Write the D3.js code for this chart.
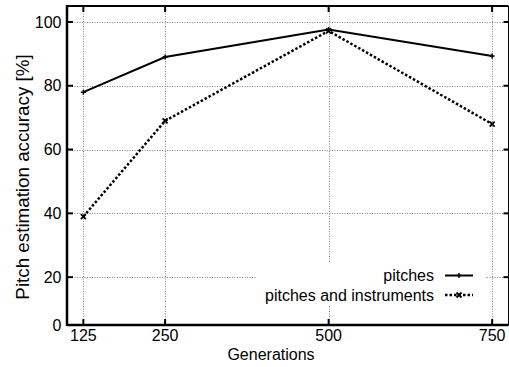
<!DOCTYPE html>
<html lang="en">
<head>
<meta charset="UTF-8">
<title>Pitch estimation accuracy</title>
<style>
  body { margin: 0; background: #fff; }
  text { font-family: "Liberation Sans", Arial, sans-serif; fill: #000; }
</style>
</head>
<body>
<svg id="svg"></svg>
<script src="https://d3js.org/d3.v7.min.js"></script>
<script>
// data
const generations = [125, 250, 500, 750];
const pitches = [78, 89, 97.6, 89.3];
const pitchesInstruments = [39, 69, 97.2, 68];
const seriesNames = ["pitches", "pitches and instruments"];
const xTickVals = [125, 250, 500, 750];
const yTickVals = [5, 20, 40, 60, 80, 100];
const yTickLabels = ["0", "20", "40", "60", "80", "100"];

const width = 509, height = 367;
const svg = d3.select("#svg").attr("width", width).attr("height", height);

// plot frame
const pLeft = 67, pRight = 508.5, pTop = 6, pBottom = 325;
const x = d3.scaleLinear().domain([100, 775]).range([pLeft, pRight]);
const y = d3.scaleLinear().domain([5, 105]).range([pBottom, pTop]);

// grid
const grid = svg.append("g").attr("stroke", "#888").attr("stroke-width", 1)
  .attr("stroke-dasharray", "1,1.5");
grid.selectAll(".gy").data(yTickVals.filter(v => v > 5)).enter().append("line")
  .attr("x1", pLeft).attr("x2", pRight)
  .attr("y1", d => Math.round(y(d)) + 0.5).attr("y2", d => Math.round(y(d)) + 0.5);
grid.selectAll(".gx").data(xTickVals).enter().append("line")
  .attr("y1", pTop).attr("y2", pBottom)
  .attr("x1", d => Math.round(x(d)) + 0.5).attr("x2", d => Math.round(x(d)) + 0.5);

// legend background hides the grid under it
svg.append("rect").attr("x", 257).attr("y", 262).attr("width", 228).attr("height", 43)
  .attr("fill", "#fff");

// ticks (inward, mirrored)
const ticks = svg.append("g").attr("stroke", "#000").attr("stroke-width", 2);
yTickVals.forEach(v => {
  const yy = y(v);
  ticks.append("line").attr("x1", pLeft).attr("x2", pLeft + 6).attr("y1", yy).attr("y2", yy);
  ticks.append("line").attr("x1", pRight).attr("x2", pRight - 5).attr("y1", yy).attr("y2", yy);
});
xTickVals.forEach(v => {
  const xx = x(v);
  ticks.append("line").attr("x1", xx).attr("x2", xx).attr("y1", pBottom).attr("y2", pBottom - 6);
  ticks.append("line").attr("x1", xx).attr("x2", xx).attr("y1", pTop).attr("y2", pTop + 6);
});

// frame
svg.append("line").attr("x1", pLeft).attr("x2", pRight).attr("y1", pTop).attr("y2", pTop)
  .attr("stroke", "#000").attr("stroke-width", 2);
svg.append("line").attr("x1", pLeft).attr("x2", pRight).attr("y1", pBottom).attr("y2", pBottom)
  .attr("stroke", "#000").attr("stroke-width", 2.5);
svg.append("line").attr("x1", pLeft).attr("x2", pLeft).attr("y1", pTop - 1).attr("y2", pBottom + 1)
  .attr("stroke", "#000").attr("stroke-width", 2.5);
svg.append("line").attr("x1", pRight).attr("x2", pRight).attr("y1", pTop).attr("y2", pBottom)
  .attr("stroke", "#000").attr("stroke-width", 1);

// tick labels
svg.selectAll(".yl").data(yTickVals).enter().append("text")
  .attr("x", 61.5).attr("y", d => y(d) + 5.7)
  .attr("text-anchor", "end").attr("font-size", 16)
  .text((d, i) => yTickLabels[i]);
svg.selectAll(".xl").data(xTickVals).enter().append("text")
  .attr("x", d => x(d)).attr("y", 341)
  .attr("text-anchor", "middle").attr("font-size", 16)
  .text(d => d);

// axis titles
svg.append("text").attr("x", 271).attr("y", 360).attr("text-anchor", "middle")
  .attr("font-size", 16).text("Generations");
svg.append("text").attr("transform", "translate(29,177) rotate(-90)")
  .attr("text-anchor", "middle").attr("font-size", 18.8).text("Pitch estimation accuracy [%]");

// series lines
const line = d3.line().x(d => x(d[0])).y(d => y(d[1]));
const s1 = generations.map((g, i) => [g, pitches[i]]);
const s2 = generations.map((g, i) => [g, pitchesInstruments[i]]);

svg.append("path").datum(s2).attr("d", line).attr("fill", "none")
  .attr("stroke", "#000").attr("stroke-width", 2.5).attr("stroke-dasharray", "2.5,2");
svg.append("path").datum(s1).attr("d", line).attr("fill", "none")
  .attr("stroke", "#000").attr("stroke-width", 2);

// point markers
function plus(g, cx, cy) {
  g.append("path").attr("d", `M${cx - 2.5},${cy}H${cx + 2.5}M${cx},${cy - 2.5}V${cy + 2.5}`)
    .attr("stroke", "#000").attr("stroke-width", 1.5);
}
function cross(g, cx, cy) {
  g.append("path").attr("d", `M${cx - 2.5},${cy - 2.5}L${cx + 2.5},${cy + 2.5}M${cx - 2.5},${cy + 2.5}L${cx + 2.5},${cy - 2.5}`)
    .attr("stroke", "#000").attr("stroke-width", 1.8);
}
const marks = svg.append("g");
s1.forEach(d => plus(marks, x(d[0]), y(d[1])));
s2.forEach(d => cross(marks, x(d[0]), y(d[1])));

// legend
const legY = [275.5, 295];
seriesNames.forEach((name, i) => {
  svg.append("text").attr("x", 434).attr("y", legY[i] + 5.5).attr("text-anchor", "end")
    .attr("font-size", 16).text(name);
  svg.append("line").attr("x1", 445).attr("x2", 473).attr("y1", legY[i]).attr("y2", legY[i])
    .attr("stroke", "#000").attr("stroke-width", i === 0 ? 2 : 2.5)
    .attr("stroke-dasharray", i === 0 ? null : "2.5,2");
  if (i === 0) plus(svg, 459, legY[i]); else cross(svg, 459, legY[i]);
});
</script>
</body>
</html>
